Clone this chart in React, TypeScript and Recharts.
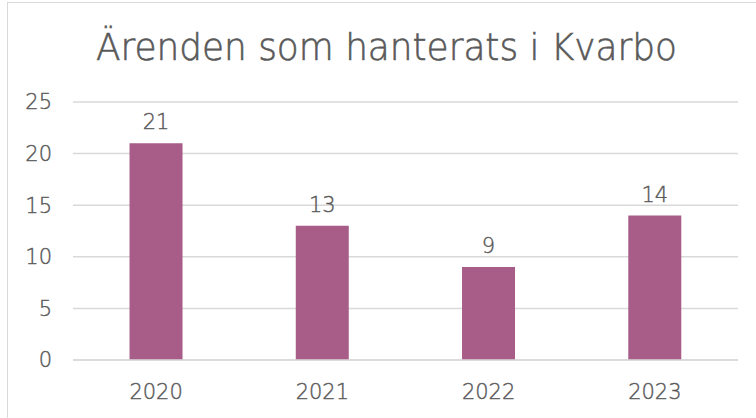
import React from 'react';
import { BarChart, Bar, XAxis, YAxis, CartesianGrid, LabelList } from 'recharts';

const years = ['2020', '2021', '2022', '2023'];
const cases = [21, 13, 9, 14];
const yTicks = [0, 5, 10, 15, 20, 25];

const data = years.map((year, i) => ({ year, cases: cases[i] }));

const TEXT = '#595959';
const FONT = '"DejaVu Sans", sans-serif';

const App: React.FC = () => {
  return (
    <div style={{ position: 'absolute', left: 0, top: 0, width: 756, height: 418, background: '#fff', overflow: 'hidden' }}>
      {/* chart frame, right and bottom edges fall outside the crop */}
      <div
        style={{
          position: 'absolute',
          left: 7,
          top: 2,
          width: 800,
          height: 500,
          border: '1.5px solid #d9d9d9',
          boxSizing: 'border-box',
        }}
      />
      <svg width={756} height={80} style={{ position: 'absolute', left: 0, top: 0 }}>
        <text
          x={96}
          y={60}
          textLength={581}
          lengthAdjust="spacingAndGlyphs"
          fill={TEXT}
          fontFamily={FONT}
          fontSize={38}
          fontWeight={300}
          stroke={TEXT}
          strokeWidth={0.6}
        >
          Ärenden som hanterats i Kvarbo
        </text>
      </svg>
      <div style={{ position: 'absolute', left: 0, top: 0 }}>
        <BarChart
          width={756}
          height={418}
          data={data}
          margin={{ top: 102, right: 18, bottom: 18, left: 0 }}
          barCategoryGap="34%"
        >
          <CartesianGrid vertical={false} stroke="#d9d9d9" strokeWidth={1.5} />
          <XAxis
            dataKey="year"
            height={40}
            axisLine={{ stroke: '#d9d9d9', strokeWidth: 1.5 }}
            tickLine={false}
            tickSize={0}
            tickMargin={24}
            tick={{ fill: TEXT, fontSize: 21, fontFamily: FONT, fontWeight: 300, stroke: TEXT, strokeWidth: 0.4 }}
          />
          <YAxis
            width={73}
            domain={[0, 25]}
            ticks={yTicks}
            interval={0}
            axisLine={false}
            tickLine={false}
            tickSize={0}
            tickMargin={21}
            tick={{ fill: TEXT, fontSize: 21, fontFamily: FONT, fontWeight: 300, stroke: TEXT, strokeWidth: 0.4 }}
          />
          <Bar dataKey="cases" fill="#a75d87" isAnimationActive={false}>
            <LabelList
              dataKey="cases"
              position="top"
              offset={14}
              fill={TEXT}
              stroke={TEXT}
              strokeWidth={0.4}
              fontSize={21}
              fontWeight={300}
              fontFamily={FONT}
            />
          </Bar>
        </BarChart>
      </div>
    </div>
  );
};

export default App;
